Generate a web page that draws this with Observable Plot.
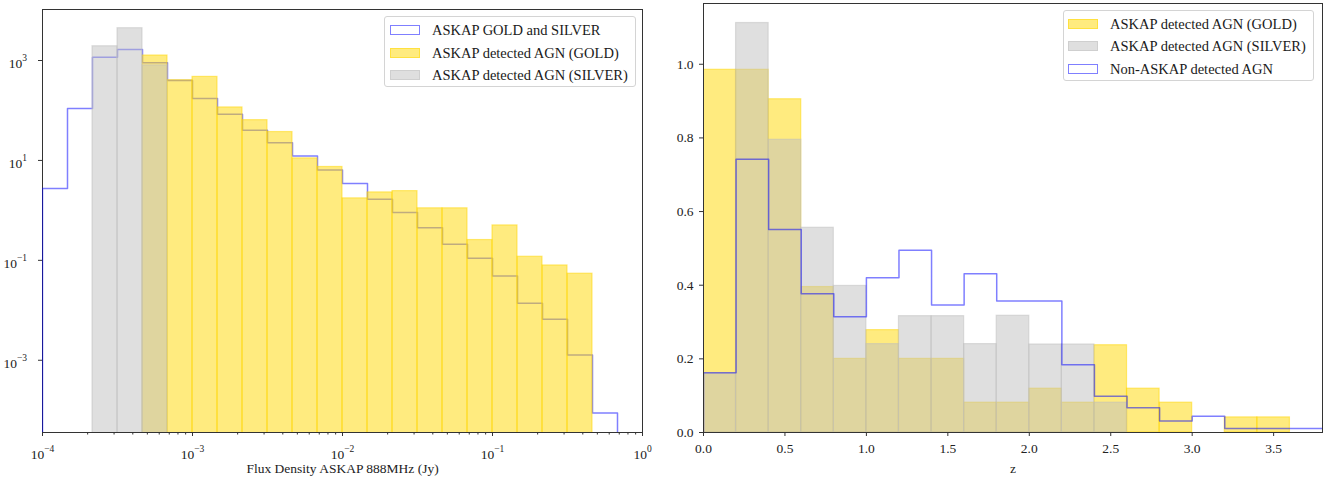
<!DOCTYPE html>
<html><head><meta charset="utf-8">
<script src="https://cdn.jsdelivr.net/npm/d3@7"></script>
<script src="https://cdn.jsdelivr.net/npm/@observablehq/plot@0.6"></script>
<style>
body{margin:0;background:#fff;}
#wrap{position:relative;width:1331px;height:485px;font-family:"Liberation Serif",serif;overflow:hidden;}
#wrap svg text{font-family:"Liberation Serif",serif !important;font-size:13.5px !important;fill:#222;}
#wrap svg text tspan.sup{font-size:9.5px;}
.panel{position:absolute;top:0;}
.legend{position:absolute;border:1px solid #d4d4d4;border-radius:3px;background:rgba(255,255,255,0.85);font-size:14.5px;color:#1a1a1a;box-sizing:border-box;}
.sw{position:absolute;width:30px;height:10px;box-sizing:border-box;}
.lt{position:absolute;white-space:nowrap;line-height:16px;}
</style></head>
<body><div id="wrap"></div>
<script>
// ---------- Left panel: flux density histogram (log bins) ----------
const fluxEdges = [1e-4, 1.4678e-4, 2.1544e-4, 3.1623e-4, 4.6416e-4, 6.8129e-4,
  1e-3, 1.4678e-3, 2.1544e-3, 3.1623e-3, 4.6416e-3, 6.8129e-3,
  1e-2, 1.4678e-2, 2.1544e-2, 3.1623e-2, 4.6416e-2, 6.8129e-2,
  0.1, 0.14678, 0.21544, 0.31623, 0.46416, 0.68129];
const fluxAll    = [2.75, 110, 1160, 1660, 900, 400, 174, 84, 40, 22.5, 12.2, 6.4, 3.47, 1.68, 0.91, 0.45, 0.21, 0.11, 0.0485, 0.0138, 0.0066, 0.00128, 0.000088];
const fluxGold   = [0, 0, 0, 0, 1260, 404, 470, 115, 64, 37, 11, 7.4, 1.74, 2.29, 2.43, 1.1, 1.1, 0.255, 0.5, 0.118, 0.079, 0.054, 0];
const fluxSilver = [0, 0, 1930, 4430, 800, 0, 0, 0, 0, 0, 0, 0, 0, 0, 0, 0, 0, 0, 0, 0, 0, 0, 0];
const fluxTicks  = [1e-4, 1e-3, 1e-2, 1e-1, 1];
const countTicks = [1e-3, 1e-1, 1e1, 1e3];
const fluxLabel  = "Flux Density ASKAP 888MHz (Jy)";
const legendLeft = ["ASKAP GOLD and SILVER", "ASKAP detected AGN (GOLD)", "ASKAP detected AGN (SILVER)"];

// ---------- Right panel: redshift histogram ----------
const zEdges  = [0, 0.2, 0.4, 0.6, 0.8, 1.0, 1.2, 1.4, 1.6, 1.8, 2.0, 2.2, 2.4, 2.6, 2.8, 3.0, 3.2, 3.4, 3.6, 3.8];
const zGold   = [0.985, 0.985, 0.905, 0.395, 0.2, 0.278, 0.2, 0.2, 0.081, 0.081, 0.119, 0.081, 0.237, 0.119, 0.081, 0, 0.041, 0.041, 0];
const zSilver = [0.16, 1.112, 0.795, 0.556, 0.398, 0.24, 0.316, 0.316, 0.24, 0.317, 0.239, 0.239, 0.081, 0, 0, 0, 0, 0, 0];
const zNon    = [0.162, 0.742, 0.551, 0.377, 0.314, 0.42, 0.495, 0.346, 0.431, 0.357, 0.357, 0.184, 0.0985, 0.067, 0.0315, 0.044, 0.011, 0.011, 0.011];
const zTicks  = [0, 0.5, 1.0, 1.5, 2.0, 2.5, 3.0, 3.5];
const densTicks = [0, 0.2, 0.4, 0.6, 0.8, 1.0];
const zLabel  = "z";
const legendRight = ["ASKAP detected AGN (GOLD)", "ASKAP detected AGN (SILVER)", "Non-ASKAP detected AGN"];

// ---------- helpers ----------
const GOLD = "gold", SILVER = "silver", BLUE = "blue";
function bins(edges, values) {
  return values.map((v, i) => ({x1: edges[i], x2: edges[i + 1], y: v})).filter(d => d.y > 0);
}
function step(edges, values, base, close) {
  const pts = [{x: edges[0], y: base}];
  values.forEach((v, i) => pts.push({x: edges[i], y: v}));
  pts.push({x: edges[values.length], y: values[values.length - 1]});
  if (close) pts.push({x: edges[values.length], y: base});
  return pts;
}
const supFmt = d => "10^" + String(Math.round(Math.log10(d))).replace("-", "\u2212");
const minorFlux = d3.range(-4, 0).flatMap(k => d3.range(2, 10).map(m => m * Math.pow(10, k)));
const style = {fontFamily: "'Liberation Serif', serif", fontSize: "13.5px", color: "#222", background: "transparent", overflow: "visible"};
const ns = "http://www.w3.org/2000/svg";
function superscriptify(svg, axisName, baseDy) {
  svg.querySelectorAll(`g[aria-label="${axisName}"] text`).forEach(t => {
    const m = t.textContent.match(/^10\^(.+)$/);
    if (!m) return;
    while (t.firstChild) t.removeChild(t.firstChild);
    const a = document.createElementNS(ns, "tspan");
    a.textContent = "10";
    if (baseDy) a.setAttribute("dy", baseDy);
    const b = document.createElementNS(ns, "tspan");
    b.textContent = m[1];
    b.setAttribute("class", "sup");
    b.setAttribute("dy", "-6.5");
    b.setAttribute("font-size", "9.5px");
    t.append(a, b);
  });
}

const wrap = document.getElementById("wrap");

// ---------- left chart ----------
const BASE_LOG = 1e-9;
const left = Plot.plot({
  width: 660, height: 485,
  marginLeft: 42, marginRight: 18, marginTop: 9, marginBottom: 53,
  style,
  x: {type: "log", domain: [1e-4, 1]},
  y: {type: "log", domain: [3.58e-5, 1.05e4]},
  marks: [
    Plot.frame({stroke: "#333", strokeWidth: 1}),
    Plot.line(step(fluxEdges, fluxAll, BASE_LOG, true), {x: "x", y: "y", curve: "step-after", stroke: BLUE, strokeOpacity: 0.5, strokeWidth: 1.5, clip: true}),
    Plot.rect(bins(fluxEdges, fluxGold), {x1: "x1", x2: "x2", y1: BASE_LOG, y2: "y", fill: GOLD, fillOpacity: 0.5, stroke: GOLD, strokeOpacity: 0.5, strokeWidth: 1.2, clip: true}),
    Plot.rect(bins(fluxEdges, fluxSilver), {x1: "x1", x2: "x2", y1: BASE_LOG, y2: "y", fill: SILVER, fillOpacity: 0.5, stroke: SILVER, strokeOpacity: 0.5, strokeWidth: 1.2, clip: true}),
    Plot.frame({anchor: "bottom", stroke: "#333", strokeWidth: 1}),
    Plot.frame({anchor: "top", stroke: "#333", strokeWidth: 1}),
    Plot.frame({anchor: "right", stroke: "#333", strokeWidth: 1}),
    Plot.axisX({ticks: minorFlux, tickSize: 2.5, tickFormat: () => "", label: null, stroke: "#333"}),
    Plot.axisX({ticks: fluxTicks, tickSize: 4, tickPadding: 12.5, tickFormat: supFmt, stroke: "#333", fontSize: 13.5,
      label: fluxLabel, labelAnchor: "center", labelArrow: "none", labelOffset: 40}),
    Plot.axisY({ticks: countTicks, tickSize: 4, tickPadding: 11.5, tickFormat: supFmt, label: null, stroke: "#333", fontSize: 13.5})
  ]
});
superscriptify(left, "x-axis tick label", null);
superscriptify(left, "y-axis tick label", "3");
const lp = document.createElement("div");
lp.className = "panel"; lp.style.left = "0px";
lp.appendChild(left);
wrap.appendChild(lp);

// ---------- right chart ----------
const right = Plot.plot({
  width: 671, height: 485,
  marginLeft: 43, marginRight: 9, marginTop: 3, marginBottom: 53,
  style,
  x: {domain: [0, 3.8]},
  y: {domain: [0, 1.165]},
  marks: [
    Plot.rect(bins(zEdges, zGold), {x1: "x1", x2: "x2", y1: 0, y2: "y", fill: GOLD, fillOpacity: 0.5, stroke: GOLD, strokeOpacity: 0.5, strokeWidth: 1.2, clip: true}),
    Plot.rect(bins(zEdges, zSilver), {x1: "x1", x2: "x2", y1: 0, y2: "y", fill: SILVER, fillOpacity: 0.5, stroke: SILVER, strokeOpacity: 0.5, strokeWidth: 1.2, clip: true}),
    Plot.line(step(zEdges, zNon, 0, false), {x: "x", y: "y", curve: "step-after", stroke: BLUE, strokeOpacity: 0.5, strokeWidth: 1.5, clip: true}),
    Plot.frame({stroke: "#333", strokeWidth: 1}),
    Plot.axisX({ticks: zTicks, tickSize: 4, tickPadding: 7, tickFormat: d3.format(".1f"), stroke: "#333", fontSize: 13.5,
      label: zLabel, labelAnchor: "center", labelArrow: "none", labelOffset: 40}),
    Plot.axisY({ticks: densTicks, tickSize: 4, tickPadding: 6, tickFormat: d3.format(".1f"), label: null, stroke: "#333", fontSize: 13.5})
  ]
});
const rp = document.createElement("div");
rp.className = "panel"; rp.style.left = "660px";
rp.appendChild(right);
wrap.appendChild(rp);

// ---------- legends ----------
const swatchStyles = {
  blue:   "background:#fff;border:1.5px solid rgba(0,0,255,0.5);",
  gold:   "background:rgba(255,215,0,0.5);border:1px solid rgba(255,215,0,0.5);",
  silver: "background:rgba(192,192,192,0.5);border:1px solid rgba(192,192,192,0.5);"
};
function legend(x, y, w, h, labels, kinds, rowTops, swLeft, textLeft) {
  const box = document.createElement("div");
  box.className = "legend";
  box.style.cssText = `left:${x}px;top:${y}px;width:${w}px;height:${h}px;`;
  labels.forEach((lab, i) => {
    const sw = document.createElement("div");
    sw.className = "sw";
    sw.style.cssText = `left:${swLeft}px;top:${rowTops[i] - 5}px;` + swatchStyles[kinds[i]];
    const tx = document.createElement("div");
    tx.className = "lt";
    tx.style.cssText = `left:${textLeft}px;top:${rowTops[i] - 8}px;`;
    tx.textContent = lab;
    box.append(sw, tx);
  });
  wrap.appendChild(box);
}
legend(384, 16, 252, 71, legendLeft, ["blue", "gold", "silver"], [13, 35.5, 57.5], 5, 47);
legend(1063, 10, 251, 71, legendRight, ["gold", "silver", "blue"], [13, 35, 57.5], 4, 46);
</script>
</body></html>
